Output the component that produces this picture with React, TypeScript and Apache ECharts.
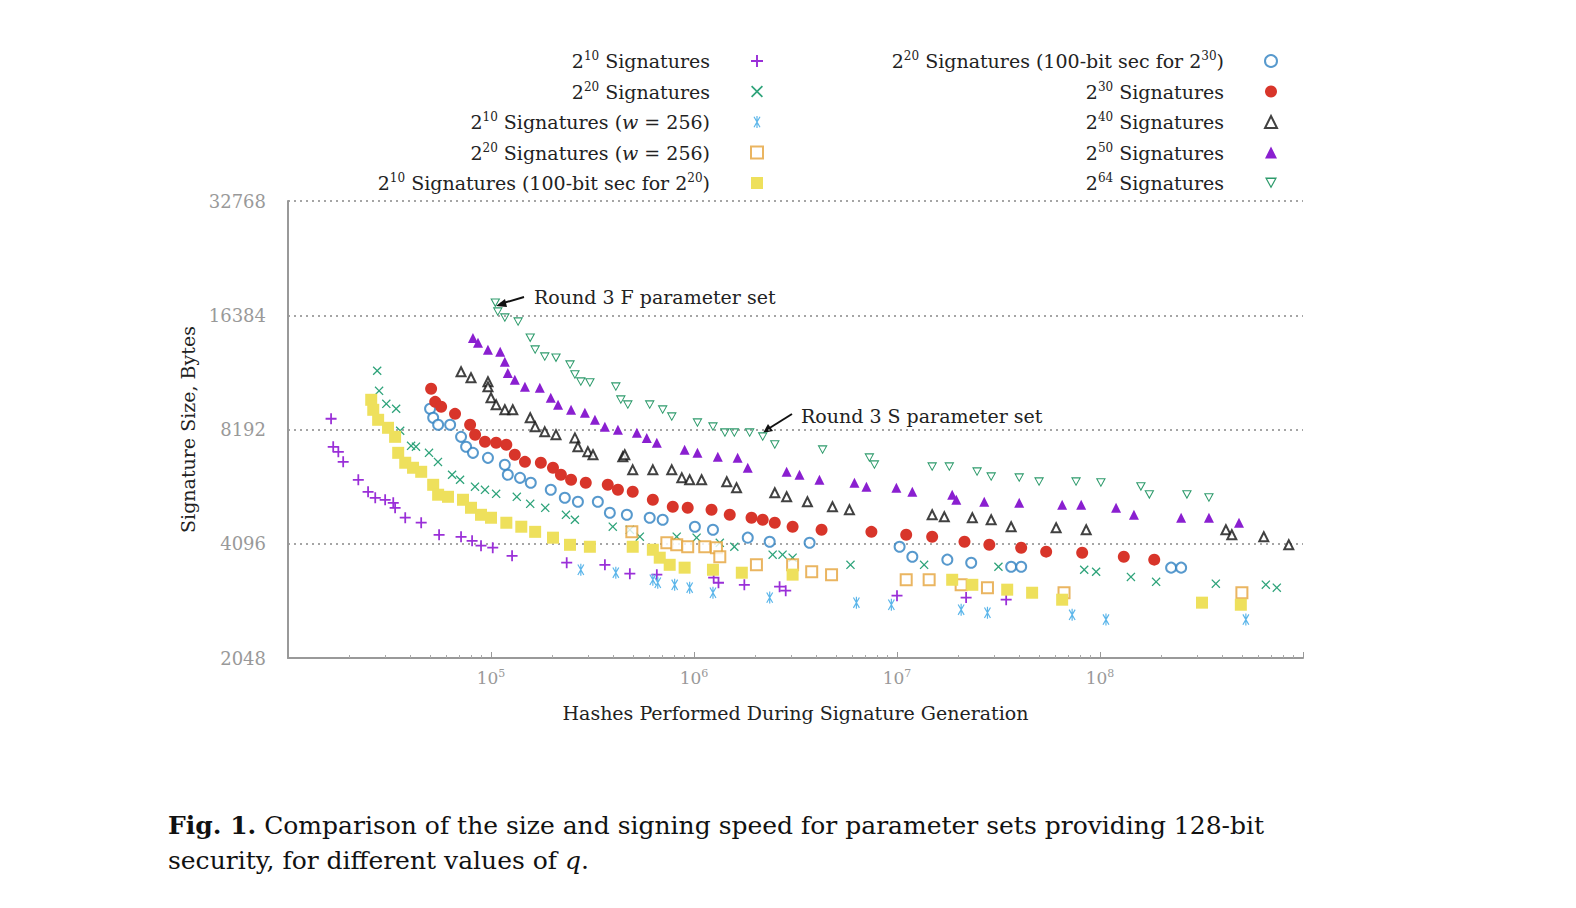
import { useEffect, useRef } from 'react';
import * as echarts from 'echarts';

// [hashes, bytes]
const sig10 = [
  [16300, 8744], [16700, 7377], [17700, 7156], [18700, 6733], [22200, 6038], [24800, 5615], [26900, 5414],
  [30100, 5349], [33000, 5252], [33700, 5095], [37800, 4796], [45300, 4653], [55500, 4325], [71200, 4273],
  [80700, 4170], [89300, 4048], [102000, 3998], [127000, 3808], [236000, 3651], [364000, 3605],
  [483000, 3416], [656000, 3396], [1250000, 3335], [1320000, 3233], [1770000, 3193], [2640000, 3157],
  [2830000, 3081], [10000000, 2989], [21900000, 2954], [34500000, 2917],
];
const sig20 = [
  [27500, 11700], [28100, 10360], [30500, 9575], [34100, 9290], [35700, 8130], [40400, 7420], [42700, 7380],
  [49500, 7110], [54800, 6730], [64300, 6225], [70400, 6040], [83400, 5790], [93400, 5682], [106000, 5545],
  [134000, 5446], [156000, 5220], [185000, 5095], [234000, 4883], [259000, 4738], [398000, 4542],
  [483000, 4458], [541000, 4275], [822000, 4275], [1030000, 4250], [1340000, 4120], [1580000, 4022],
  [2440000, 3834], [2730000, 3834], [3060000, 3764], [5900000, 3605], [13600000, 3605], [31600000, 3563],
  [83600000, 3498], [95700000, 3456], [142000000, 3350], [189000000, 3252], [372000000, 3214],
  [656000000, 3195], [743000000, 3137],
];
const sig10w = [
  [277000, 3498], [412000, 3436], [627000, 3292], [663000, 3233], [803000, 3193], [952000, 3137],
  [1240000, 3043], [2360000, 2954], [6310000, 2865], [9380000, 2829], [20700000, 2745], [27900000, 2695],
  [72900000, 2661], [107000000, 2585], [523000000, 2585],
];
const sig20w = [
  [494000, 4403], [735000, 4120], [822000, 4070], [931000, 4022], [1130000, 4022], [1290000, 3998],
  [1340000, 3785], [2030000, 3605], [3060000, 3605], [3800000, 3456], [4760000, 3396], [11100000, 3292],
  [14400000, 3292], [20700000, 3193], [27900000, 3137], [66500000, 3043], [500000000, 3043],
];
const sig10b = [
  [25700, 9810], [26300, 9232], [27800, 8689], [31100, 8277], [33700, 7836], [34900, 7111], [37800, 6696],
  [41300, 6495], [45300, 6338], [51900, 5857], [54900, 5515], [61400, 5446], [72800, 5349], [79700, 5095],
  [89300, 4883], [100000, 4796], [119000, 4653], [141000, 4542], [165000, 4403], [202000, 4250],
  [245000, 4070], [307000, 4022], [499000, 4022], [627000, 3950], [678000, 3764], [759000, 3605],
  [899000, 3543], [1240000, 3498], [1720000, 3436], [3060000, 3396], [18700000, 3292], [23500000, 3193],
  [34900000, 3100], [46300000, 3043], [65100000, 2917], [318000000, 2865], [494000000, 2829],
];
const sig20b = [
  [50100, 9290], [51900, 8794], [54900, 8429], [62900, 8429], [71200, 7836], [75400, 7377], [81500, 7111],
  [96600, 6898], [117000, 6612], [121000, 6225], [139000, 6110], [157000, 5930], [197000, 5682],
  [231000, 5414], [268000, 5283], [336000, 5283], [385000, 4944], [467000, 4883], [605000, 4796],
  [701000, 4738], [1010000, 4542], [1240000, 4458], [1840000, 4250], [2360000, 4145], [3710000, 4120],
  [10300000, 4022], [11900000, 3785], [17700000, 3719], [23200000, 3651], [36500000, 3563],
  [40900000, 3563], [224000000, 3543], [251000000, 3543],
];
const sig30 = [
  [50700, 10490], [53100, 9688], [56800, 9404], [66500, 9008], [78900, 8429], [83500, 7934], [93400, 7602],
  [106000, 7559], [119000, 7467], [131000, 7029], [147000, 6733], [176000, 6696], [202000, 6495],
  [221000, 6225], [248000, 6038], [293000, 5930], [376000, 5857], [422000, 5682], [499000, 5615],
  [627000, 5349], [786000, 5127], [931000, 5095], [1220000, 5033], [1500000, 4883], [1920000, 4796],
  [2180000, 4738], [2500000, 4653], [3060000, 4542], [4250000, 4458], [7480000, 4403], [11100000, 4325],
  [14900000, 4273], [21500000, 4145], [28500000, 4070], [40900000, 3998], [54300000, 3904],
  [81700000, 3880], [131000000, 3785], [185000000, 3719],
];
const sig40 = [
  [71200, 11630], [79700, 11210], [96600, 10940], [96600, 10610], [100000, 9930], [106000, 9515],
  [117000, 9232], [128000, 9232], [156000, 8794], [165000, 8328], [184000, 8077], [209000, 7934],
  [259000, 7786], [268000, 7377], [300000, 7156], [318000, 7029], [446000, 6942], [456000, 7029],
  [499000, 6414], [627000, 6414], [777000, 6414], [871000, 6110], [952000, 6038], [1090000, 6038],
  [1450000, 5965], [1620000, 5751], [2500000, 5580], [2860000, 5446], [3620000, 5283], [4810000, 5127],
  [5830000, 5033], [14900000, 4883], [17100000, 4826], [23500000, 4796], [29100000, 4738],
  [36500000, 4542], [60800000, 4514], [85500000, 4458], [417000000, 4458], [446000000, 4325],
  [641000000, 4273], [851000000, 4070],
];
const sig50 = [
  [81500, 14280], [86300, 13860], [96600, 13280], [111000, 13120], [117000, 12350], [121000, 11550],
  [131000, 11080], [147000, 10610], [174000, 10550], [197000, 9930], [214000, 9515], [248000, 9232],
  [290000, 9065], [325000, 8689], [364000, 8328], [422000, 8176], [523000, 8029], [585000, 7786],
  [656000, 7559], [899000, 7242], [1040000, 7111], [1310000, 6942], [1640000, 6898], [1840000, 6495],
  [2860000, 6338], [3310000, 6225], [4150000, 6038], [6170000, 5930], [7070000, 5790], [9930000, 5751],
  [11900000, 5615], [18700000, 5515], [19600000, 5349], [26900000, 5283], [40000000, 5252],
  [65100000, 5190], [80800000, 5190], [120000000, 5095], [147000000, 4883], [251000000, 4796],
  [344000000, 4796], [484000000, 4653],
];
const sig64 = [
  [105000, 17660], [108000, 16730], [117000, 16130], [136000, 15740], [156000, 14280], [165000, 13280],
  [184000, 12730], [209000, 12650], [245000, 12130], [259000, 11420], [277000, 10940], [307000, 10880],
  [412000, 10610], [436000, 9810], [472000, 9515], [605000, 9515], [701000, 9232], [777000, 8847],
  [1040000, 8532], [1240000, 8328], [1420000, 8029], [1580000, 8029], [1880000, 8029], [2180000, 7836],
  [2500000, 7467], [4300000, 7242], [7310000, 6898], [7740000, 6612], [14900000, 6533], [18100000, 6533],
  [24800000, 6338], [29100000, 6148], [40000000, 6110], [50100000, 5965], [76200000, 5965],
  [101000000, 5930], [159000000, 5790], [175000000, 5515], [268000000, 5515], [344000000, 5414],
];

const yTicks = [2048, 4096, 8192, 16384, 32768];

const PLUS = 'path://M4.2,0H5.8V4.2H10V5.8H5.8V10H4.2V5.8H0V4.2H4.2Z';
const CROSS = 'path://M1,0L5,4L9,0L10,1L6,5L10,9L9,10L5,6L1,10L0,9L4,5L0,1Z';
const STAR =
  'path://M4.5,0H5.5V10H4.5Z M2.933,0.42L7.933,9.08L7.067,9.58L2.067,0.92Z M7.933,0.92L2.933,9.58L2.067,9.08L7.067,0.42Z';
const DOWNTRI = 'path://M0,0H10L5,9Z M1.8,1.1L5,6.9L8.2,1.1Z';

const FONT = 'DejaVu Serif';

const seriesDefs = [
  { name: '2{sup|10} Signatures', data: sig10, symbol: PLUS, color: '#9a2fd8', size: 11, hollow: false },
  { name: '2{sup|20} Signatures', data: sig20, symbol: CROSS, color: '#2ea37a', size: 9, hollow: false },
  { name: '2{sup|10} Signatures ({it|w} = 256)', data: sig10w, symbol: STAR, color: '#5cb6ea', size: 12, hollow: false },
  { name: '2{sup|20} Signatures ({it|w} = 256)', data: sig20w, symbol: 'emptyRect', color: '#e5a23a', size: 11, hollow: true },
  { name: '2{sup|10} Signatures (100-bit sec for 2{sup|20})', data: sig10b, symbol: 'rect', color: '#eee05c', size: 12, hollow: false },
  { name: '2{sup|20} Signatures (100-bit sec for 2{sup|30})', data: sig20b, symbol: 'emptyCircle', color: '#2d7fc1', size: 10, hollow: true },
  { name: '2{sup|30} Signatures', data: sig30, symbol: 'circle', color: '#d8352a', size: 12, hollow: false },
  { name: '2{sup|40} Signatures', data: sig40, symbol: 'emptyTriangle', color: '#111111', size: 9, hollow: true },
  { name: '2{sup|50} Signatures', data: sig50, symbol: 'triangle', color: '#8a1fd0', size: 10, hollow: false },
  { name: '2{sup|64} Signatures', data: sig64, symbol: DOWNTRI, color: '#2e9b6c', size: 10, hollow: false },
];

const rich = {
  sup: { fontSize: 12, fontFamily: FONT, color: '#222', verticalAlign: 'top', padding: [0, 0, 10, 0] },
  it: { fontSize: 19, fontFamily: FONT, color: '#222', fontStyle: 'italic' },
};

function legendBlock(names: string[], right: number) {
  return {
    orient: 'vertical',
    right,
    top: 45,
    align: 'right',
    itemGap: 10,
    itemWidth: 12,
    itemHeight: 12,
    formatter: (n: string) => n,
    textStyle: { fontFamily: FONT, fontSize: 19, color: '#222', padding: [0, 36, 0, 0], rich },
    data: names,
  };
}

export default function App() {
  const ref = useRef<HTMLDivElement>(null);

  useEffect(() => {
    if (!ref.current) return;
    const chart = echarts.init(ref.current, null, { renderer: 'svg' });
    const names = seriesDefs.map((s) => s.name);

    chart.setOption({
      animation: false,
      backgroundColor: '#fff',
      grid: { left: 288, right: 273, top: 201, bottom: 250 },
      legend: [legendBlock(names.slice(0, 5), 807), legendBlock(names.slice(5), 293)],
      xAxis: {
        type: 'log',
        logBase: 10,
        min: 1e4,
        max: 1e9,
        name: 'Hashes Performed During Signature Generation',
        nameLocation: 'middle',
        nameGap: 45,
        nameTextStyle: { fontFamily: FONT, fontSize: 19, color: '#222' },
        axisLine: { lineStyle: { color: '#999', width: 2 } },
        axisTick: { inside: true, length: 6, lineStyle: { color: '#999' } },
        minorTick: { show: true, splitNumber: 9, length: 3, lineStyle: { color: '#aaa' } },
        splitLine: { show: false },
        axisLabel: {
          color: '#999',
          fontFamily: FONT,
          fontSize: 17,
          margin: 10,
          formatter: (v: number) => {
            const e = Math.round(Math.log10(v));
            return e === 4 || e === 9 ? '' : '10{s|' + e + '}';
          },
          rich: { s: { fontSize: 11, color: '#999', fontFamily: FONT, verticalAlign: 'top', padding: [0, 0, 9, 0] } },
        },
      },
      yAxis: {
        type: 'log',
        logBase: 2,
        min: yTicks[0],
        max: yTicks[yTicks.length - 1],
        name: 'Signature Size, Bytes',
        nameLocation: 'middle',
        nameGap: 86,
        nameRotate: 90,
        nameTextStyle: { fontFamily: FONT, fontSize: 19, color: '#222' },
        axisLine: { show: true, lineStyle: { color: '#999', width: 2 } },
        axisTick: { show: false },
        axisLabel: { color: '#999', fontFamily: FONT, fontSize: 18, margin: 22, formatter: (v: number) => String(Math.round(v)) },
        splitLine: { show: true, lineStyle: { color: '#888', type: [2, 4], width: 1.5 } },
      },
      series: seriesDefs.map((s) => ({
        name: s.name,
        type: 'scatter',
        data: s.data,
        symbol: s.symbol,
        symbolSize: s.size,
        symbolKeepAspect: true,
        itemStyle: s.hollow
          ? { color: s.color, borderColor: s.color, borderWidth: 1.6 }
          : { color: s.color, opacity: 1 },
        emphasis: { disabled: true },
      })),
      graphic: [
        { type: 'text', left: 534, top: 287, style: { text: 'Round 3 F parameter set', font: `19px "${FONT}"`, fill: '#222' } },
        { type: 'line', shape: { x1: 524, y1: 297, x2: 500, y2: 304 }, style: { stroke: '#111', lineWidth: 2 } },
        { type: 'polygon', shape: { points: [[496, 306], [505, 299], [507, 307]] }, style: { fill: '#111' } },
        { type: 'text', left: 801, top: 406, style: { text: 'Round 3 S parameter set', font: `19px "${FONT}"`, fill: '#222' } },
        { type: 'line', shape: { x1: 792, y1: 414, x2: 768, y2: 429 }, style: { stroke: '#111', lineWidth: 2 } },
        { type: 'polygon', shape: { points: [[763, 433], [768, 424], [773, 431]] }, style: { fill: '#111' } },
        {
          type: 'text',
          left: 168,
          top: 808,
          style: {
            text: '{b|Fig. 1.} Comparison of the size and signing speed for parameter sets providing 128-bit\nsecurity, for different values of {i|q}.',
            font: `25px "${FONT}"`,
            fill: '#111',
            lineHeight: 35,
            rich: {
              b: { fontWeight: 'bold', fontSize: 25, fontFamily: FONT, fill: '#111' },
              i: { fontStyle: 'italic', fontSize: 25, fontFamily: FONT, fill: '#111' },
            },
          },
        },
      ],
    });

    return () => chart.dispose();
  }, []);

  return <div ref={ref} style={{ position: 'fixed', left: 0, top: 0, width: 1576, height: 908 }} />;
}
